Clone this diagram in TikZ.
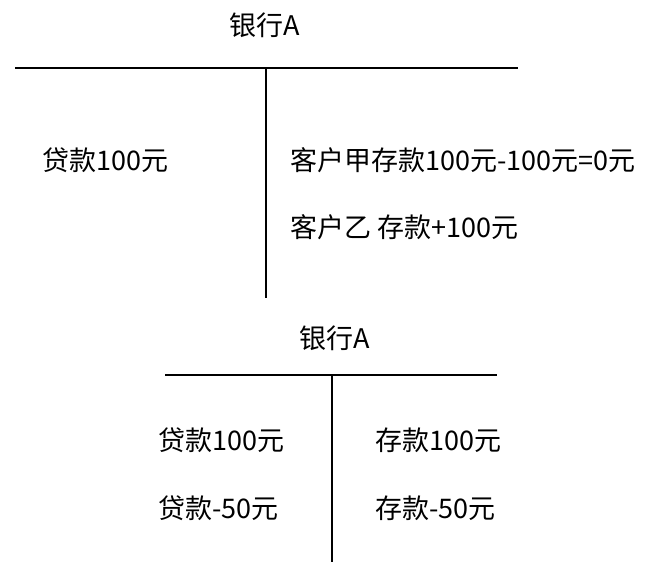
\documentclass[tikz,border=0pt]{standalone}
\usepackage{fontspec}
\setmainfont{Noto Sans CJK SC}
\begin{document}
\begin{tikzpicture}[x=1pt,y=-1pt,
  lbl/.style={anchor=west,inner sep=0pt,font=\fontsize{27}{30}\selectfont},
  ttl/.style={inner sep=0pt,font=\fontsize{27}{30}\selectfont},
  ln/.style={line width=1.5pt}]
\useasboundingbox (0,0) rectangle (665,570);
\node[ttl] (t1) at (265,25) {银行A};
\coordinate (h1a) at (15,68); \coordinate (h1b) at (518,68);
\coordinate (v1a) at (266,68); \coordinate (v1b) at (266,298);
\draw[ln] (h1a) -- (h1b); \draw[ln] (v1a) -- (v1b);
\node[lbl] (a1) at (42,160) {贷款100元};
\node[lbl] (a2) at (290,160) {客户甲存款100元-100元=0元};
\node[lbl] (a3) at (290,227) {客户乙 存款+100元};
\node[ttl] (t2) at (335,338) {银行A};
\coordinate (h2a) at (165,375); \coordinate (h2b) at (497,375);
\coordinate (v2a) at (332,375); \coordinate (v2b) at (332,562);
\draw[ln] (h2a) -- (h2b); \draw[ln] (v2a) -- (v2b);
\node[lbl] (b1) at (158,440) {贷款100元};
\node[lbl] (b2) at (158,508) {贷款-50元};
\node[lbl] (b3) at (375,440) {存款100元};
\node[lbl] (b4) at (375,508) {存款-50元};
\end{tikzpicture}
\end{document}
